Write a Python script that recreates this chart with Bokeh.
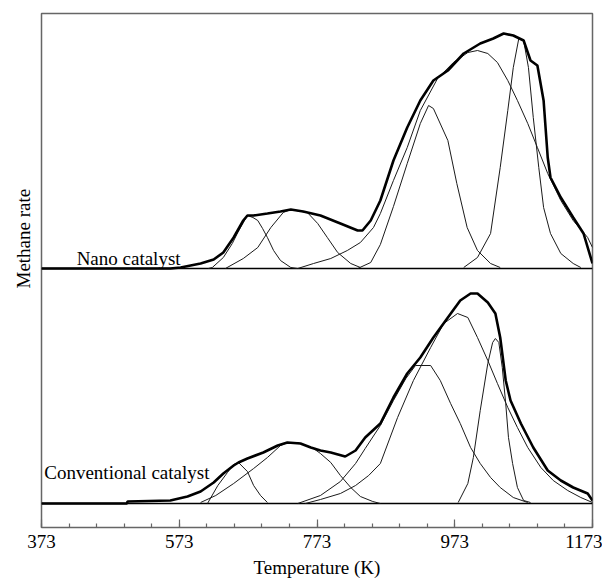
from bokeh.plotting import figure
from bokeh.models import Range1d, FixedTicker, Title, Label
from bokeh.embed import file_html
from bokeh.resources import INLINE

# ---------------- data ----------------
T_MIN, T_MAX = 373, 1173
x_ticks = [373, 573, 773, 973, 1173]
x_minor = list(range(373, 1174, 40))

# Nano catalyst (upper panel)
nano_total_T = [373, 560, 575, 604, 623, 637, 652, 666, 672, 681, 701, 720, 735, 753, 778, 807, 832, 839, 851,
                865, 884, 904, 923, 942, 963, 986, 1010, 1029, 1044, 1058, 1073, 1083, 1093, 1102, 1108, 1112,
                1127, 1145, 1160, 1173]
nano_total = [0, 0, 1, 5, 9, 16, 31, 48, 53, 53, 55, 57, 59, 57, 53, 45, 38, 38, 48,
              68, 108, 141, 168, 188, 198, 215, 225, 230, 235, 233, 228, 208, 203, 168, 111, 91,
              71, 51, 35, 5]

nano_p1_T = [615, 621, 637, 650, 658, 666, 672, 680, 687, 694, 701, 710, 720, 735, 745]
nano_p1 = [0, 1, 11, 25, 36, 46, 53, 51, 48, 40, 31, 18, 8, 1, 0]

nano_p2_T = [640, 666, 687, 706, 724, 735, 759, 774, 788, 803, 822, 836]
nano_p2 = [0, 10, 21, 41, 56, 59, 56, 45, 31, 16, 5, 1]

nano_p3_T = [832, 851, 865, 884, 904, 923, 935, 942, 963, 976, 991, 1006, 1025, 1039]
nano_p3 = [0, 6, 24, 62, 105, 145, 163, 160, 128, 85, 41, 18, 5, 1]

nano_p4_T = [745, 768, 793, 817, 836, 855, 865, 884, 904, 923, 948, 971, 992, 1006, 1021, 1035, 1050, 1064,
             1079, 1093, 1108, 1127, 1145, 1166, 1173]
nano_p4 = [0, 5, 10, 18, 26, 41, 55, 88, 121, 158, 190, 206, 216, 218, 215, 206, 188, 168,
           145, 121, 95, 68, 48, 31, 21]

nano_p5_T = [986, 1006, 1025, 1039, 1050, 1058, 1066, 1073, 1080, 1087, 1095, 1102, 1112, 1127, 1145, 1156]
nano_p5 = [1, 11, 35, 101, 158, 201, 230, 228, 201, 151, 101, 61, 35, 15, 5, 1]

# Conventional catalyst (lower panel)
conv_total_T = [373, 497, 498, 560, 585, 604, 623, 637, 652, 659, 672, 695, 716, 730, 749, 764, 778, 793, 814,
                829, 843, 865, 884, 904, 923, 942, 963, 981, 996, 1006, 1021, 1032, 1039, 1047, 1054, 1069,
                1087, 1108, 1127, 1145, 1166, 1173]
conv_total = [0, 0, 2, 3, 7, 12, 21, 30, 38, 41, 45, 51, 58, 61, 60, 56, 53, 51, 47,
              53, 66, 80, 106, 130, 146, 166, 186, 203, 210, 210, 201, 190, 166, 123, 103, 80,
              56, 33, 23, 16, 10, 3]

conv_p1_T = [614, 629, 643, 652, 659, 672, 681, 691, 701]
conv_p1 = [0, 18, 31, 39, 41, 32, 18, 8, 1]

conv_p2_T = [604, 626, 652, 681, 701, 720, 730, 745, 768, 778, 793, 807, 822, 836, 854, 865]
conv_p2 = [1, 8, 20, 35, 46, 58, 61, 61, 55, 50, 41, 28, 16, 7, 2, 0]

conv_p3_T = [745, 778, 807, 829, 843, 865, 884, 902, 916, 938, 952, 967, 981, 996, 1010, 1025, 1039, 1058, 1079]
conv_p3 = [0, 8, 22, 40, 55, 78, 103, 125, 138, 138, 123, 100, 80, 56, 40, 26, 16, 6, 1]

conv_p4_T = [756, 778, 807, 829, 848, 865, 890, 913, 938, 957, 977, 992, 1006, 1021, 1035, 1050, 1064, 1079,
             1098, 1116, 1137, 1156, 1173]
conv_p4 = [0, 4, 10, 18, 28, 40, 86, 123, 156, 180, 190, 186, 166, 143, 120, 96, 76, 56,
           36, 23, 13, 6, 1]

conv_p5_T = [978, 992, 1000, 1010, 1021, 1028, 1032, 1037, 1042, 1047, 1051, 1057, 1064, 1073, 1083]
conv_p5 = [1, 20, 46, 93, 140, 161, 165, 161, 136, 100, 66, 40, 16, 3, 1]

# ---------------- styling ----------------
FONT = "Liberation Serif"
FS = "19px"
FRAME = "#666666"

p = figure(frame_width=551, frame_height=514,
           x_range=Range1d(T_MIN, T_MAX), y_range=Range1d(-24, 490),
           y_axis_location=None,
           output_backend="svg", toolbar_location=None,
           min_border_left=41, min_border_right=10, min_border_top=13, min_border_bottom=0)
p.extra_y_ranges = {"top": Range1d(-259, 255)}
p.grid.visible = False
p.outline_line_color = FRAME
p.outline_line_width = 1.5
p.background_fill_color = "white"
p.border_fill_color = "white"

ax = p.xaxis[0]
ax.ticker = FixedTicker(ticks=x_ticks, minor_ticks=x_minor)
ax.axis_line_color = None
ax.major_tick_in = 8
ax.major_tick_out = 0
ax.minor_tick_in = 4
ax.minor_tick_out = 0
ax.major_tick_line_color = FRAME
ax.minor_tick_line_color = FRAME
ax.major_tick_line_width = 1.2
ax.minor_tick_line_width = 1.2
ax.major_label_text_font = FONT
ax.major_label_text_font_size = FS
ax.major_label_text_color = "black"
ax.major_label_standoff = 7
ax.axis_label = "Temperature (K)"
ax.axis_label_text_font = FONT
ax.axis_label_text_font_size = FS
ax.axis_label_text_font_style = "normal"
ax.axis_label_text_color = "black"
ax.axis_label_standoff = 6

p.add_layout(Title(text="Methane rate", align="left", offset=239, standoff=16, text_font=FONT,
                   text_font_size=FS, text_font_style="normal", text_color="black"), "left")

# baselines / divider
p.line([T_MIN, T_MAX], [0, 0], line_color="black", line_width=1.6, y_range_name="top")
p.line([T_MIN, T_MAX], [0, 0], line_color="black", line_width=1.6)

THIN = dict(line_color="#1a1a1a", line_width=1.0)
THICK = dict(line_color="black", line_width=2.6)

for xs, ys in [(nano_p1_T, nano_p1), (nano_p2_T, nano_p2), (nano_p3_T, nano_p3),
               (nano_p4_T, nano_p4), (nano_p5_T, nano_p5)]:
    p.line(xs, ys, y_range_name="top", **THIN)
p.line(nano_total_T, nano_total, y_range_name="top", **THICK)

for xs, ys in [(conv_p1_T, conv_p1), (conv_p2_T, conv_p2), (conv_p3_T, conv_p3),
               (conv_p4_T, conv_p4), (conv_p5_T, conv_p5)]:
    p.line(xs, ys, **THIN)
p.line(conv_total_T, conv_total, **THICK)

p.add_layout(Label(x=424, y=10, y_range_name="top", text="Nano catalyst", text_font=FONT,
                   text_font_size=FS, text_color="black", text_baseline="alphabetic"))
p.add_layout(Label(x=377, y=31, text="Conventional catalyst", text_font=FONT,
                   text_font_size=FS, text_color="black", text_baseline="alphabetic"))

open("out.html", "w").write(file_html(p, INLINE))
